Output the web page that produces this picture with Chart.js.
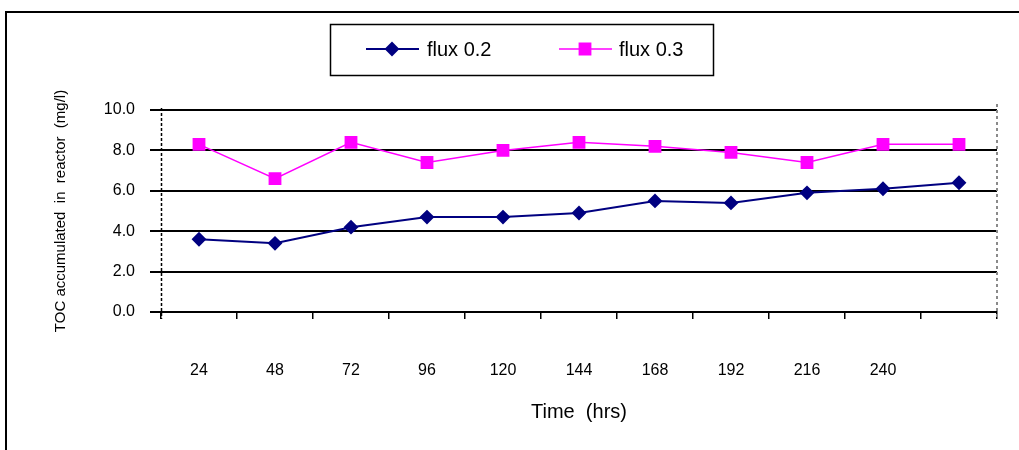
<!DOCTYPE html>
<html>
<head>
<meta charset="utf-8">
<script src="https://cdn.jsdelivr.net/npm/chart.js@4.4.1/dist/chart.umd.min.js"></script>
<style>
  html, body { margin: 0; padding: 0; background: #fff; }
</style>
</head>
<body>
<canvas id="tocChart" width="1019" height="450"></canvas>
<script>
// sampling times (hrs) - last sample has no label on the axis
var hours = ['24', '48', '72', '96', '120', '144', '168', '192', '216', '240', ''];
var flux02 = [3.6, 3.4, 4.2, 4.7, 4.7, 4.9, 5.5, 5.4, 5.9, 6.1, 6.4];
var flux03 = [8.3, 6.6, 8.4, 7.4, 8.0, 8.4, 8.2, 7.9, 7.4, 8.3, 8.3];
var seriesNames = ['flux 0.2', 'flux 0.3'];

var FONT = 'Arial, "Liberation Sans", sans-serif';

// outer frame + white background
var framePlugin = {
    id: 'frame',
    beforeDraw: function(chart) {
        var ctx = chart.ctx;
        ctx.save();
        ctx.fillStyle = '#fff';
        ctx.fillRect(0, 0, chart.width, chart.height);
        ctx.strokeStyle = '#000';
        ctx.lineWidth = 2;
        ctx.beginPath();
        ctx.moveTo(6, chart.height);
        ctx.lineTo(6, 12);
        ctx.lineTo(chart.width, 12);
        ctx.stroke();
        ctx.restore();
    },
    // dashed value axis on the left, dashed grey plot edge on the right
    beforeDatasetsDraw: function(chart) {
        var a = chart.chartArea;
        var ctx = chart.ctx;
        ctx.save();
        ctx.setLineDash([3, 2]);
        ctx.lineWidth = 1.5;
        ctx.strokeStyle = '#000';
        ctx.beginPath();
        ctx.moveTo(a.left + 0.5, a.top - 2);
        ctx.lineTo(a.left + 0.5, a.bottom + 7);
        ctx.stroke();
        ctx.setLineDash([3, 3]);
        ctx.lineWidth = 2;
        ctx.strokeStyle = '#8a8a8a';
        ctx.beginPath();
        ctx.moveTo(a.right, a.top - 6);
        ctx.lineTo(a.right, a.bottom + 7);
        ctx.stroke();
        ctx.restore();
    }
};

// boxed legend with line + marker samples
var boxLegend = {
    id: 'boxLegend',
    afterDraw: function(chart) {
        var ctx = chart.ctx;
        ctx.save();
        ctx.strokeStyle = '#000';
        ctx.lineWidth = 1.5;
        ctx.strokeRect(330.5, 24.5, 383, 51);
        var entries = [{x: 366, mid: 392, text: 427}, {x: 559, mid: 585, text: 619}];
        chart.data.datasets.forEach(function(ds, i) {
            var e = entries[i];
            var y = 49;
            ctx.strokeStyle = ds.borderColor;
            ctx.lineWidth = ds.borderWidth;
            ctx.beginPath();
            ctx.moveTo(e.x, y);
            ctx.lineTo(e.x + 53, y);
            ctx.stroke();
            ctx.fillStyle = ds.pointBackgroundColor;
            ctx.strokeStyle = ds.pointBorderColor;
            Chart.helpers.drawPoint(ctx, {
                pointStyle: ds.pointStyle,
                radius: ds.pointRadius,
                rotation: 0,
                borderWidth: 1
            }, e.mid, y);
            ctx.fillStyle = '#000';
            ctx.font = '20px ' + FONT;
            ctx.textAlign = 'left';
            ctx.textBaseline = 'middle';
            ctx.fillText(ds.label, e.text, y + 1);
        });
        ctx.restore();
    }
};

var ctx = document.getElementById('tocChart').getContext('2d');
var chart = new Chart(ctx, {
    type: 'line',
    data: {
        labels: hours,
        datasets: [{
            label: seriesNames[0],
            data: flux02,
            borderColor: '#000080',
            backgroundColor: '#000080',
            pointBackgroundColor: '#000080',
            pointBorderColor: '#000080',
            borderWidth: 2,
            pointStyle: 'rectRot',
            pointRadius: 6,
            tension: 0
        }, {
            label: seriesNames[1],
            data: flux03,
            borderColor: '#ff00ff',
            backgroundColor: '#ff00ff',
            pointBackgroundColor: '#ff00ff',
            pointBorderColor: '#ff00ff',
            borderWidth: 1.5,
            pointStyle: 'rect',
            pointRadius: 8,
            tension: 0
        }]
    },
    options: {
        responsive: false,
        animation: false,
        layout: {
            padding: {left: 45, top: 110, right: 22, bottom: 0}
        },
        plugins: {
            legend: {display: false},
            tooltip: {enabled: false}
        },
        scales: {
            x: {
                offset: true,
                grid: {
                    offset: true,
                    drawOnChartArea: false,
                    color: '#000',
                    lineWidth: 1.5,
                    tickLength: 7
                },
                border: {display: true, color: '#000', width: 2},
                ticks: {
                    color: '#000',
                    padding: 42,
                    maxRotation: 0,
                    autoSkip: false,
                    font: {family: FONT, size: 16}
                },
                title: {
                    display: true,
                    text: 'Time  (hrs)',
                    color: '#000',
                    font: {family: FONT, size: 20},
                    padding: {top: 26, bottom: 26}
                },
                afterFit: function(scale) { scale.height = 138; }
            },
            y: {
                min: 0,
                max: 10,
                ticks: {
                    stepSize: 2,
                    color: '#000',
                    padding: 15,
                    font: {family: FONT, size: 16},
                    callback: function(v) { return v.toFixed(1); }
                },
                grid: {
                    color: '#000',
                    lineWidth: 2,
                    tickLength: 11
                },
                border: {display: false},
                title: {
                    display: true,
                    text: 'TOC accumulated  in  reactor  (mg/l)',
                    color: '#000',
                    font: {family: FONT, size: 15},
                    padding: {top: 7, bottom: 7}
                },
                afterFit: function(scale) { scale.width = 116; }
            }
        }
    },
    plugins: [framePlugin, boxLegend]
});
</script>
</body>
</html>
